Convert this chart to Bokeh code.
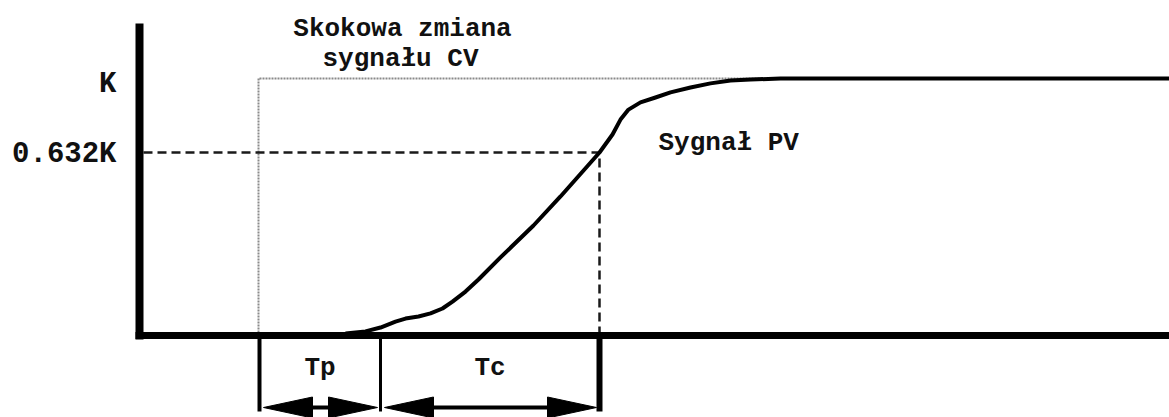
from bokeh.plotting import figure
from bokeh.models import Range1d, ColumnDataSource
from bokeh.core.properties import value
from bokeh.embed import file_html
from bokeh.resources import INLINE

# ---------------- data (time: arbitrary units, level: fraction of K) ----------------
pv_time = [345, 365, 380, 395, 405, 418, 430, 442, 452, 465, 478, 500, 533, 560,
           599, 612, 620, 628, 640, 655, 670, 690, 710, 730, 750, 780, 1169]
pv_level = [0.008, 0.016, 0.031, 0.054, 0.066, 0.074, 0.086, 0.105, 0.132, 0.171,
            0.218, 0.304, 0.428, 0.541, 0.712, 0.782, 0.840, 0.879, 0.907, 0.926,
            0.946, 0.965, 0.981, 0.992, 0.996, 1.0, 1.0]

cv_time = [258, 258, 1169]
cv_level = [0.0, 1.0, 1.0]

K_level = 1.0
tc_mark_level = 0.712          # drawn level of the 0.632K mark
t_step = 259                   # step change of CV
t_delay_end = 380              # end of dead time Tp
t_63 = 599                     # time at 0.632K

y_tick_levels = [1.0, 0.712]
y_tick_labels = ["K", "0.632K"]

interval_labels = ["Tp", "Tc"]
interval_starts = [t_step, t_delay_end]
interval_ends = [t_delay_end, t_63]

axis_time = 139                # position of the vertical axis
axis_top = 1.214
time_end = 1169

# ---------------- figure ----------------
W, H = 1169, 417
PX = 1.0 / 257.0  # one pixel in level units
p = figure(width=W, height=H, output_backend="svg", toolbar_location=None,
           x_range=Range1d(0, W), y_range=Range1d(-(H - 335) * PX, 335 * PX),
           x_axis_type=None, y_axis_type=None, min_border=0,
           outline_line_color=None, background_fill_color="white",
           border_fill_color="white")
p.grid.visible = False

FONT = value("Liberation Mono")
INK = "#111111"

# CV step (dotted grey)
p.line(cv_time, cv_level, line_color="#8a8a8a", line_width=2, line_dash="2 1")

# 0.632K dashed guides
p.line([axis_time + 4, t_63, t_63], [tc_mark_level, tc_mark_level, 0],
       line_color="#1a1a1a", line_width=2.5, line_dash="9 5")

# axes
p.line([axis_time, axis_time], [axis_top, -4 * PX], line_color="black", line_width=8)
p.line([axis_time - 4, time_end], [0, 0], line_color="black", line_width=7)

# PV response
p.line(pv_time, pv_level, line_color="black", line_width=4, line_join="round")

# vertical markers below the time axis
bar_src = ColumnDataSource(dict(x=[t_step, t_delay_end, t_63],
                                w=[4, 3, 6]))
p.segment(x0="x", y0=0, x1="x", y1=-76 * PX, line_width="w",
          line_color="black", source=bar_src)

# double arrows for Tp and Tc
arrow_level = -72 * PX
head_len = 49
head_half = 10.5 * PX
xs_heads, ys_heads = [], []
for s, e in zip(interval_starts, interval_ends):
    left_tip = s + 4
    right_tip = e - 3
    p.line([left_tip + 10, right_tip - 10], [arrow_level, arrow_level],
           line_color="black", line_width=4)
    xs_heads.append([left_tip, left_tip + head_len, left_tip + head_len])
    ys_heads.append([arrow_level, arrow_level + head_half, arrow_level - head_half])
    xs_heads.append([right_tip, right_tip - head_len, right_tip - head_len])
    ys_heads.append([arrow_level, arrow_level + head_half, arrow_level - head_half])
p.patches(xs_heads, ys_heads, fill_color="black", line_color="black", line_width=1)

# y labels
p.text(x=[116, 116], y=y_tick_levels, text=y_tick_labels, text_align="right",
       text_baseline="alphabetic", y_offset=[6, 2], text_font=FONT,
       text_font_style="bold", text_font_size="29px", text_color=INK)

# interval labels
p.text(x=[(s + e) / 2 for s, e in zip(interval_starts, interval_ends)],
       y=[-32 * PX, -32 * PX], text=interval_labels, text_align="center",
       text_baseline="alphabetic", text_font=FONT, text_font_style="bold",
       text_font_size="26px", text_color=INK)

# annotations
p.text(x=[402, 400], y=[307 * PX, 277 * PX],
       text=["Skokowa zmiana", "sygnału CV"], text_align="center",
       text_baseline="alphabetic", text_font=FONT, text_font_style="bold",
       text_font_size="26px", text_color=INK)
p.text(x=[658], y=[193 * PX], text=["Sygnał PV"], text_align="left",
       text_baseline="alphabetic", text_font=FONT, text_font_style="bold",
       text_font_size="26px", text_color=INK)

open("out.html", "w").write(file_html(p, INLINE))
